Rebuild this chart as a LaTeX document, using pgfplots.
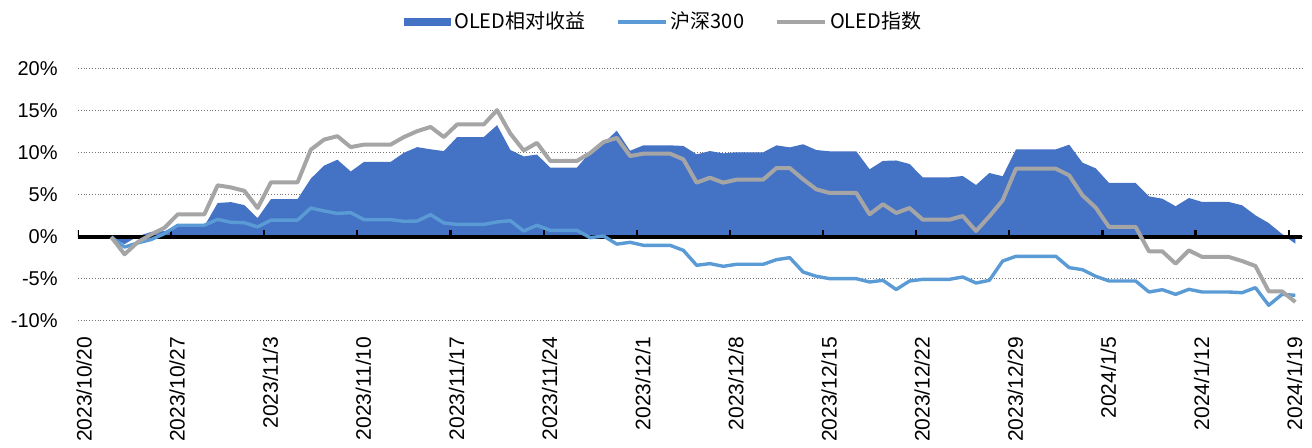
\documentclass[border=0pt]{standalone}
\usepackage{fontspec}
\setmainfont{Liberation Sans}
\newfontfamily\cjk{Noto Sans CJK SC}
\usepackage{pgfplots}
\usepackage{pgfplotstable}
\pgfplotsset{compat=1.18}
\definecolor{relblue}{HTML}{4472C4}
\definecolor{hsblue}{HTML}{5B9BD5}
\definecolor{oledgray}{HTML}{A5A5A5}

\pgfplotstableread{
d G L R
2 0 0 0
3 -2.06 -1.20 -0.86
4 -0.60 -0.70 0.10
5 0.30 -0.30 0.60
6 1.10 0.40 0.70
7 2.70 1.40 1.30
8 2.70 1.40 1.30
9 2.70 1.40 1.30
10 6.15 2.10 4.05
11 5.90 1.75 4.15
12 5.50 1.70 3.80
13 3.45 1.20 2.25
14 6.50 2.00 4.50
15 6.50 2.00 4.50
16 6.50 2.00 4.50
17 10.40 3.45 6.95
18 11.60 3.10 8.50
19 12.00 2.80 9.20
20 10.70 2.90 7.80
21 11.00 2.06 8.94
22 11.00 2.06 8.94
23 11.00 2.06 8.94
24 11.90 1.87 10.03
25 12.60 1.90 10.70
26 13.10 2.66 10.44
27 11.90 1.67 10.23
28 13.40 1.50 11.90
29 13.40 1.50 11.90
30 13.40 1.50 11.90
31 15.10 1.79 13.31
32 12.30 1.94 10.36
33 10.30 0.71 9.59
34 11.20 1.39 9.81
35 9.05 0.79 8.26
36 9.05 0.79 8.26
37 9.05 0.79 8.26
38 10.00 -0.08 10.08
39 11.30 0.12 11.18
40 11.80 -0.85 12.65
41 9.64 -0.63 10.27
42 9.92 -0.99 10.91
43 9.92 -0.99 10.91
44 9.92 -0.99 10.91
45 9.25 -1.59 10.84
46 6.47 -3.37 9.84
47 7.06 -3.17 10.23
48 6.47 -3.49 9.96
49 6.83 -3.25 10.08
50 6.83 -3.25 10.08
51 6.83 -3.25 10.08
52 8.21 -2.70 10.91
53 8.21 -2.46 10.67
54 6.87 -4.17 11.04
55 5.67 -4.68 10.35
56 5.24 -4.96 10.20
57 5.24 -4.96 10.20
58 5.24 -4.96 10.20
59 2.70 -5.36 8.06
60 3.90 -5.16 9.06
61 2.86 -6.25 9.11
62 3.45 -5.24 8.69
63 2.06 -5.04 7.10
64 2.06 -5.04 7.10
65 2.06 -5.04 7.10
66 2.50 -4.76 7.26
67 0.71 -5.48 6.19
68 2.46 -5.16 7.62
69 4.37 -2.86 7.23
70 8.13 -2.30 10.43
71 8.13 -2.30 10.43
72 8.13 -2.30 10.43
73 8.13 -2.30 10.43
74 7.34 -3.65 10.99
75 4.96 -3.89 8.85
76 3.49 -4.68 8.17
77 1.19 -5.24 6.43
78 1.19 -5.24 6.43
79 1.19 -5.24 6.43
80 -1.71 -6.55 4.84
81 -1.71 -6.27 4.56
82 -3.17 -6.83 3.66
83 -1.59 -6.23 4.64
84 -2.38 -6.55 4.17
85 -2.38 -6.55 4.17
86 -2.38 -6.55 4.17
87 -2.86 -6.63 3.77
88 -3.45 -6.03 2.58
89 -6.47 -8.13 1.66
90 -6.47 -6.83 0.36
91 -7.74 -6.94 -0.80
}\datatab

\pgfplotstableread{
x y
-0.5 0
91.5 0
}\zeroline

\pgfplotstableread{
x y
-0.5 0
-0.5 0.85
-0.5 nan
6.5 0
6.5 0.85
6.5 nan
13.5 0
13.5 0.85
13.5 nan
20.5 0
20.5 0.85
20.5 nan
27.5 0
27.5 0.85
27.5 nan
34.5 0
34.5 0.85
34.5 nan
41.5 0
41.5 0.85
41.5 nan
48.5 0
48.5 0.85
48.5 nan
55.5 0
55.5 0.85
55.5 nan
62.5 0
62.5 0.85
62.5 nan
69.5 0
69.5 0.85
69.5 nan
76.5 0
76.5 0.85
76.5 nan
83.5 0
83.5 0.85
83.5 nan
90.5 0
90.5 0.85
}\tickmarks

\begin{document}
\begin{tikzpicture}
\useasboundingbox (-39pt,-63.5pt) rectangle (617pt,160.5pt);
\begin{axis}[
  at={(0,0)}, anchor=south west,
  scale only axis, width=612pt, height=126pt,
  xmin=-0.5, xmax=91.5, ymin=-10, ymax=20,
  hide x axis=false,
  axis line style={draw=none},
  major tick length=0pt,
  xtick={-0.5,6.5,13.5,20.5,27.5,34.5,41.5,48.5,55.5,62.5,69.5,76.5,83.5,90.5},
  xticklabels={2023/10/20,2023/10/27,2023/11/3,2023/11/10,2023/11/17,2023/11/24,2023/12/1,2023/12/8,2023/12/15,2023/12/22,2023/12/29,2024/1/5,2024/1/12,2024/1/19},
  ytick={-10,-5,0,5,10,15,20},
  yticklabels={-10\%,-5\%,0\%,5\%,10\%,15\%,20\%},
  ymajorgrids,
  grid style={densely dotted, black!55, line width=0.5pt},
  xticklabel style={font=\fontsize{10.5}{12}\selectfont, xshift=3pt, rotate=90, anchor=east, inner sep=0pt},
  xticklabel shift=7.7pt,
  yticklabel style={font=\fontsize{10}{12}\selectfont, anchor=east, inner sep=0pt},
  yticklabel shift=10pt,
  unbounded coords=jump,
  legend columns=3,
  legend style={at={(0.479,1.187)}, anchor=center, draw=none, fill=none,
    font=\cjk\fontsize{10}{12}\selectfont, inner sep=0pt,
    /tikz/every even column/.append style={column sep=14pt},
    nodes={inner sep=1.5pt}},
]
\addplot[fill=relblue, draw=none,
  legend image code/.code={\fill[relblue] (0pt,-2.1pt) rectangle (23.5pt,2.1pt);}]
  table[x=d,y=R]{\datatab} \closedcycle;
\addlegendentry{OLED相对收益}
\addplot[forget plot, draw=black, line width=1.6pt, no marks] table[x=x,y=y]{\zeroline};
\addplot[forget plot, draw=black, line width=1.1pt, no marks] table[x=x,y=y]{\tickmarks};
\addplot[hsblue, line width=1.7pt, line join=round, no marks,
  legend image code/.code={\draw[hsblue, line width=1.7pt] (0pt,0pt) -- (24pt,0pt);}]
  table[x=d,y=L]{\datatab};
\addlegendentry{沪深300}
\addplot[oledgray, line width=2pt, line join=round, no marks,
  legend image code/.code={\draw[oledgray, line width=2pt] (0pt,0pt) -- (24pt,0pt);}]
  table[x=d,y=G]{\datatab};
\addlegendentry{OLED指数}
\end{axis}
\end{tikzpicture}
\end{document}
